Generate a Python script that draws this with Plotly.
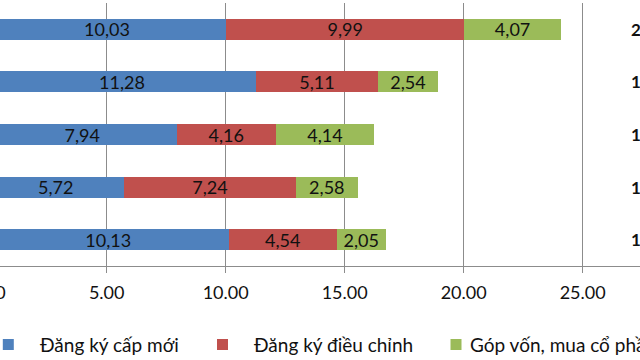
import plotly.graph_objects as go

# Data (top-to-bottom order as shown)
categories = ["Năm 2019", "Năm 2018", "Năm 2017", "Năm 2016", "Năm 2015"]
series_names = ["Đăng ký cấp mới", "Đăng ký điều chỉnh", "Góp vốn, mua cổ phần"]
cap_moi = [10.03, 11.28, 7.94, 5.72, 10.13]
dieu_chinh = [9.99, 5.11, 4.16, 7.24, 4.54]
gop_von = [4.07, 2.54, 4.14, 2.58, 2.05]
colors = ["#4F81BD", "#C0504D", "#9BBB59"]
x_ticks = [5, 10, 15, 20, 25]

FONT = "Lato, 'Liberation Sans', sans-serif"
GRID = "#8c8c8c"
TXT = "#111111"
W, H = 640, 360
MT, MB = 3, 94
PH = H - MT - MB


def fmt(v):
    return f"{v:.2f}".replace(".", ",")


def py(pix_y):  # pixel row -> paper y
    return (H - MB - pix_y) / PH


fig = go.Figure()
for name, vals, col in zip(series_names, [cap_moi, dieu_chinh, gop_von], colors):
    fig.add_trace(go.Bar(
        name=name, y=categories, x=vals, orientation="h",
        marker=dict(color=col, line=dict(width=0)),
        text=[fmt(v) for v in vals], textposition="inside",
        insidetextanchor="middle", textangle=0, constraintext="none",
        textfont=dict(family=FONT, size=18, color=TXT),
        showlegend=False,
    ))

totals = [a + b + c for a, b, c in zip(cap_moi, dieu_chinh, gop_von)]
for cat, t in zip(categories, totals):
    fig.add_annotation(x=26.95, y=cat, xref="x", yref="y", text=f"<b>{fmt(t)}</b>",
                       showarrow=False, xanchor="left", yanchor="middle",
                       font=dict(family=FONT, size=17, color=TXT))

# partially visible "0.00" tick label at the cropped left edge
fig.add_annotation(x=-12.3 / W, y=py(292), xref="paper", yref="paper", text="0.00",
                   showarrow=False, xanchor="center", yanchor="middle",
                   font=dict(family=FONT, size=18, color=TXT))

# legend (cropped at the right edge like the reference)
legend_sym_x = [8.3, 222.5, 456]
legend_txt_x = [38, 252, 468]
for name, col, sx, tx in zip(series_names, colors, legend_sym_x, legend_txt_x):
    fig.add_shape(type="rect", xref="paper", yref="paper",
                  x0=(sx - 5.5) / W, x1=(sx + 5.5) / W, y0=py(350), y1=py(339),
                  fillcolor=col, line=dict(width=0))
    fig.add_annotation(x=tx / W, y=py(344), xref="paper", yref="paper", text=name,
                       showarrow=False, xanchor="left", yanchor="middle",
                       font=dict(family=FONT, size=19, color=TXT))

fig.update_layout(
    width=W, height=H,
    margin=dict(l=0, r=0, t=MT, b=MB, autoexpand=False),
    barmode="stack", bargap=0.6,
    plot_bgcolor="white", paper_bgcolor="white",
    font=dict(family=FONT, size=18, color=TXT),
    showlegend=False,
)
fig.update_xaxes(range=[0.517, 27.41], tickvals=x_ticks, tickformat=".2f",
                 showgrid=True, gridcolor=GRID, gridwidth=1,
                 showline=True, linecolor=GRID, linewidth=1,
                 ticks="outside", ticklen=6, tickcolor=GRID, ticklabelstandoff=4,
                 zeroline=False, automargin=False,
                 tickfont=dict(family=FONT, size=18, color=TXT))
fig.update_yaxes(type="category", categoryorder="array", categoryarray=categories,
                 range=[4.5, -0.5], autorange=False, showgrid=False,
                 showticklabels=False, showline=False, ticks="", automargin=False)

fig.write_html("out.html", config={"displayModeBar": False},
               post_script="document.body.style.margin='0';document.body.style.overflow='hidden';")
